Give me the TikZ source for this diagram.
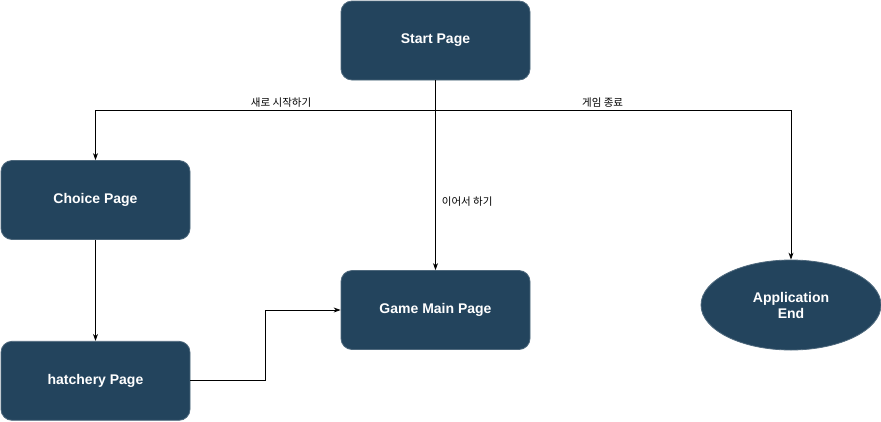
\documentclass[tikz,border=0pt]{standalone}
\usepackage{fontspec}
\setmainfont{Liberation Sans}
\newfontfamily\kofont{Noto Sans CJK KR}
\usetikzlibrary{arrows.meta,positioning,shapes.geometric}

\definecolor{pagefill}{HTML}{23445D}

\tikzset{
	page/.style={draw=pagefill!80!white, fill=pagefill, rounded corners=11pt,
		minimum width=189pt, minimum height=79pt, text=white,
		font=\fontsize{14}{16}\selectfont\bfseries},
	endnode/.style={ellipse, draw=pagefill!80!white, fill=pagefill, text=white,
		minimum width=180pt, minimum height=90pt, align=center, inner sep=0pt,
		font=\fontsize{14}{16}\selectfont\bfseries},
	lbl/.style={font=\kofont\fontsize{10.5}{12}\selectfont, inner sep=2pt}
}

\begin{document}
\begin{tikzpicture}[x=1pt, y=-1pt, >={Stealth[length=7pt,width=5pt]}, line width=0.8pt]
	\useasboundingbox (0,0) rectangle (881,421);

	\node[page] (start) at (435.5,40.5) {Start Page};
	\node[page] (choice) at (95.5,200) {Choice Page};
	\node[page] (hatch) [below=101pt of choice] {hatchery Page};
	\node[page] (game) at (435.5,310) {Game Main Page};
	\node[endnode] (append) at (791,305) {Application\\End};

	\coordinate (split) at (435.5,110);

	\draw (start) -- (split);
	\draw [arrows=->] (split) -| (choice) node [lbl, pos=0.227, above] {새로 시작하기};
	\draw [arrows=->] (split) -| (append) node [lbl, pos=0.235, above] {게임 종료};
	\draw [arrows=->] (start) -- (game) node [lbl, pos=0.64, right=4pt] {이어서 하기};
	\draw [arrows=->] (choice) -- (hatch);
	\draw [arrows=->] (hatch.east) -- ++(75,0) |- (game);
\end{tikzpicture}
\end{document}
